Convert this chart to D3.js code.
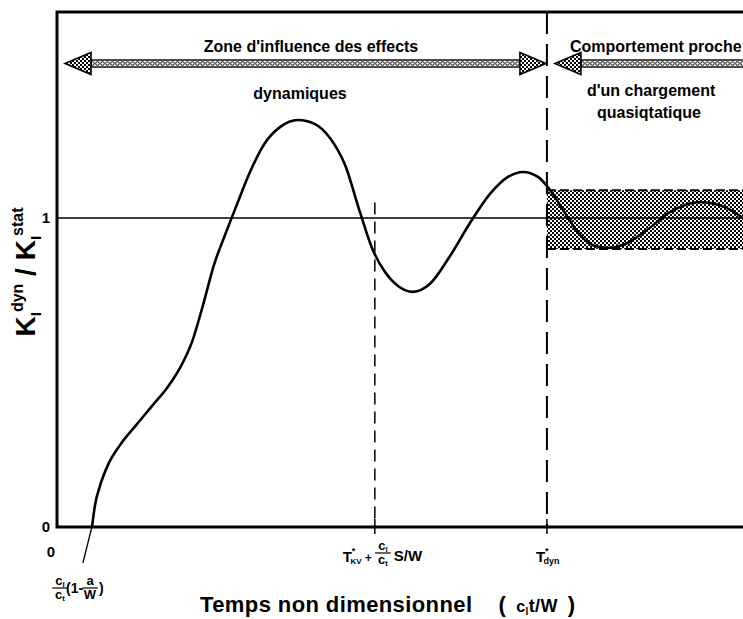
<!DOCTYPE html>
<meta charset="utf-8">
<style>
  body {
    margin: 0;
    background: #fff;
  }

  text {
    font-family: "Liberation Sans", Arial, sans-serif;
    fill: #000;
  }
</style>

<body>
  <svg width="743" height="619"></svg>

  <script src="https://d3js.org/d3.v7.min.js"></script>
  <script>
    // K_I dyn / K_I stat against dimensionless time c_l t / W
    var curveX = [0.612, 0.665, 0.752, 0.892, 1.102, 1.399, 1.679, 1.924, 2.152, 2.362, 2.554, 2.746, 2.939, 3.131,
      3.376, 3.638, 3.900, 4.215, 4.513, 4.775, 5.038, 5.300, 5.510, 5.738, 5.965, 6.227, 6.525, 6.875, 7.224, 7.574,
      7.889, 8.152, 8.414, 8.624, 8.886, 9.148, 9.411, 9.638, 9.901, 10.320, 10.723, 11.248, 11.720, 12.0];
    var curveY = [0, 0.071, 0.133, 0.201, 0.265, 0.333, 0.395, 0.450, 0.515, 0.599, 0.718, 0.848, 0.945, 1.036,
      1.149, 1.243, 1.294, 1.317, 1.304, 1.259, 1.172, 1.019, 0.903, 0.825, 0.780, 0.761, 0.787, 0.877, 0.984, 1.078,
      1.133, 1.149, 1.133, 1.091, 1.016, 0.945, 0.909, 0.903, 0.913, 0.961, 1.019, 1.052, 1.032, 1.0];

    var tStart = 0.61; // c_l/c_t (1 - a/W)
    var tKv = 5.56; // T*_KV + c_l/c_t S/W
    var tDyn = 8.57; // T*_dyn
    var bandLow = 0.9;
    var bandHigh = 1.09;
    var yTicks = [0, 1];
    var yFrame = 1.667;
    var yArrow = 1.5;

    var svg = d3.select("svg");

    var x = d3.scaleLinear().domain([0, 12]).range([57, 743]);
    var y = d3.scaleLinear().domain([0, 1]).range([527, 218]);

    var defs = svg.append("defs");
    var dots = defs.append("pattern").attr("id", "dots")
      .attr("patternUnits", "userSpaceOnUse").attr("width", 4).attr("height", 4);
    dots.append("rect").attr("width", 4).attr("height", 4).attr("fill", "#fff");
    dots.append("rect").attr("width", 2).attr("height", 2).attr("fill", "#000");
    dots.append("rect").attr("x", 2).attr("y", 2).attr("width", 2).attr("height", 2).attr("fill", "#000");

    var chain = defs.append("pattern").attr("id", "chain")
      .attr("patternUnits", "userSpaceOnUse").attr("width", 5).attr("height", 7)
      .attr("y", y(yArrow) - 3.5);
    chain.append("rect").attr("width", 5).attr("height", 7).attr("fill", "#fff");
    chain.append("ellipse").attr("cx", 2.5).attr("cy", 3.5).attr("rx", 1.8).attr("ry", 1.8)
      .attr("fill", "none").attr("stroke", "#000").attr("stroke-width", 1);

    // shaded band of quasi-static behaviour
    svg.append("rect")
      .attr("x", x(tDyn))
      .attr("y", y(bandHigh))
      .attr("width", x(12) - x(tDyn) + 10)
      .attr("height", y(bandLow) - y(bandHigh))
      .attr("fill", "url(#dots)");
    [bandLow, bandHigh].forEach(function(v) {
      svg.append("line")
        .attr("x1", x(tDyn)).attr("x2", 760)
        .attr("y1", y(v)).attr("y2", y(v))
        .attr("stroke", "#000").attr("stroke-width", 2)
        .attr("stroke-dasharray", "9,4");
    });

    // line K = 1
    svg.append("line")
      .attr("x1", x(0)).attr("x2", 760)
      .attr("y1", y(1)).attr("y2", y(1))
      .attr("stroke", "#000").attr("stroke-width", 1.3);

    // dashed verticals
    svg.append("line")
      .attr("x1", x(tKv)).attr("x2", x(tKv))
      .attr("y1", y(1.05)).attr("y2", y(0))
      .attr("stroke", "#000").attr("stroke-width", 1.5)
      .attr("stroke-dasharray", "12,7");
    svg.append("line")
      .attr("x1", x(tDyn)).attr("x2", x(tDyn))
      .attr("y1", y(yFrame)).attr("y2", y(0))
      .attr("stroke", "#000").attr("stroke-width", 2)
      .attr("stroke-dasharray", "22,10");

    // frame
    svg.append("path")
      .attr("d", "M" + 760 + "," + y(yFrame) + "H" + x(0) + "V" + y(0) + "H" + 760)
      .attr("fill", "none").attr("stroke", "#000").attr("stroke-width", 3);

    // ticks on the time axis
    [tKv, tDyn].forEach(function(t) {
      svg.append("line")
        .attr("x1", x(t)).attr("x2", x(t))
        .attr("y1", y(0) - 8).attr("y2", y(0) + 7)
        .attr("stroke", "#000").attr("stroke-width", 1.5);
    });

    // curve
    var line = d3.line()
      .x(function(d, i) { return x(curveX[i]); })
      .y(function(d, i) { return y(curveY[i]); })
      .curve(d3.curveMonotoneX);
    svg.append("path")
      .datum(curveX)
      .attr("d", line)
      .attr("fill", "none").attr("stroke", "#000").attr("stroke-width", 2.6);

    // leader line to the start label
    svg.append("line")
      .attr("x1", x(tStart)).attr("y1", y(0))
      .attr("x2", x(tStart) - 9).attr("y2", y(0) + 36)
      .attr("stroke", "#000").attr("stroke-width", 1.3);

    // arrows
    function arrow(xa, xb, yc, headA, headB) {
      var h = 3.5, H = 11, L = 26;
      var s0 = headA ? xa + L : xa;
      var s1 = headB ? xb - L : xb;
      svg.append("rect")
        .attr("x", s0).attr("y", yc - h)
        .attr("width", s1 - s0).attr("height", 2 * h)
        .attr("fill", "url(#chain)").attr("stroke", "#000").attr("stroke-width", 1.4);
      if (headA) {
        svg.append("path")
          .attr("d", "M" + xa + "," + yc + "L" + (xa + L) + "," + (yc - H) + "V" + (yc + H) + "Z")
          .attr("fill", "url(#dots)").attr("stroke", "#000").attr("stroke-width", 1.6);
      }
      if (headB) {
        svg.append("path")
          .attr("d", "M" + xb + "," + yc + "L" + (xb - L) + "," + (yc - H) + "V" + (yc + H) + "Z")
          .attr("fill", "url(#dots)").attr("stroke", "#000").attr("stroke-width", 1.6);
      }
    }
    arrow(x(0.14), x(tDyn) - 1, y(yArrow), true, true);
    arrow(x(tDyn) + 8, 770, y(yArrow), true, false);

    // zone labels
    function label(tx, ty, anchor, s) {
      svg.append("text").attr("x", tx).attr("y", ty).attr("text-anchor", anchor)
        .style("font-size", "16px").style("font-weight", "bold").text(s);
    }
    label(311, 52, "middle", "Zone d'influence des effects");
    label(300, 99, "middle", "dynamiques");
    label(570, 52, "start", "Comportement proche");
    label(587, 96, "start", "d'un chargement");
    label(597, 118, "start", "quasiqtatique");

    // y tick labels
    var yAxis = svg.append("g")
      .attr("transform", "translate(" + x(0) + ",0)")
      .call(d3.axisLeft(y).tickValues(yTicks).tickSize(0).tickPadding(7).tickFormat(d3.format("d")));
    yAxis.select(".domain").remove();
    yAxis.selectAll("text")
      .style("font-size", "15px").style("font-weight", "bold")
      .style("font-family", "'Liberation Sans', Arial, sans-serif");

    svg.append("text").attr("x", x(0) - 6).attr("y", 557).attr("text-anchor", "middle")
      .style("font-size", "15px").style("font-weight", "bold").text("0");

    // fraction helper
    function frac(cx, yl, num, numSub, den, denSub, size) {
      var n = svg.append("text").attr("x", cx).attr("y", yl - 3).attr("text-anchor", "middle")
        .style("font-size", size + "px").style("font-weight", "bold");
      n.append("tspan").text(num);
      if (numSub) n.append("tspan").attr("dy", 2).style("font-size", (size * 0.6) + "px").text(numSub);
      var d = svg.append("text").attr("x", cx).attr("y", yl + size * 0.85).attr("text-anchor", "middle")
        .style("font-size", size + "px").style("font-weight", "bold");
      d.append("tspan").text(den);
      if (denSub) d.append("tspan").attr("dy", 2).style("font-size", (size * 0.6) + "px").text(denSub);
      svg.append("line")
        .attr("x1", cx - size * 0.6).attr("x2", cx + size * 0.6)
        .attr("y1", yl).attr("y2", yl)
        .attr("stroke", "#000").attr("stroke-width", 1.2);
    }

    // T*_KV + c_l/c_t S/W
    var kv = svg.append("text").attr("x", x(tKv) - 3).attr("y", 562).attr("text-anchor", "end")
      .style("font-size", "15px").style("font-weight", "bold");
    kv.append("tspan").text("T");
    kv.append("tspan").attr("dy", -8).style("font-size", "9px").text("*");
    kv.append("tspan").attr("dy", 10).attr("dx", -5).style("font-size", "8px").text("KV");
    kv.append("tspan").attr("dy", -2).style("font-size", "12px").text(" +");
    frac(x(tKv) + 8, 553, "c", "l", "c", "t", 13);
    svg.append("text").attr("x", x(tKv) + 19).attr("y", 561)
      .style("font-size", "15px").style("font-weight", "bold").text("S/W");

    // T*_dyn
    var dyn = svg.append("text").attr("x", x(tDyn) - 11).attr("y", 562)
      .style("font-size", "15px").style("font-weight", "bold");
    dyn.append("tspan").text("T");
    dyn.append("tspan").attr("dy", -8).style("font-size", "9px").text("*");
    dyn.append("tspan").attr("dy", 10).attr("dx", -5).style("font-size", "9px").text("dyn");

    // c_l/c_t (1 - a/W)
    frac(60, 588, "c", "l", "c", "t", 13);
    svg.append("text").attr("x", 66).attr("y", 593)
      .style("font-size", "14px").style("font-weight", "bold").text("(1-");
    frac(90, 588, "a", null, "W", null, 13);
    svg.append("text").attr("x", 99).attr("y", 593)
      .style("font-size", "14px").style("font-weight", "bold").text(")");

    // axis titles
    var xt = svg.append("text").attr("x", 200).attr("y", 612)
      .style("font-size", "22px").style("font-weight", "bold").style("letter-spacing", "0.4px");
    xt.append("tspan").text("Temps non dimensionnel");
    xt.append("tspan").attr("dx", 26).text("(");
    xt.append("tspan").attr("dx", 10).style("font-size", "16px").text("c");
    xt.append("tspan").attr("dy", 3).style("font-size", "10px").text("l");
    xt.append("tspan").attr("dy", -3).style("font-size", "18px").text("t/W");
    xt.append("tspan").attr("dx", 10).text(")");

    var yt = svg.append("text")
      .attr("transform", "translate(35,272) rotate(-90)")
      .attr("text-anchor", "middle")
      .style("font-size", "28px").style("font-weight", "bold");
    yt.append("tspan").text("K");
    yt.append("tspan").attr("dy", 6).style("font-size", "15px").text("I");
    yt.append("tspan").attr("dy", -18).style("font-size", "16px").text("dyn");
    yt.append("tspan").attr("dy", 12).text(" / K");
    yt.append("tspan").attr("dy", 6).style("font-size", "15px").text("I");
    yt.append("tspan").attr("dy", -18).style("font-size", "16px").text("stat");
  </script>
</body>
